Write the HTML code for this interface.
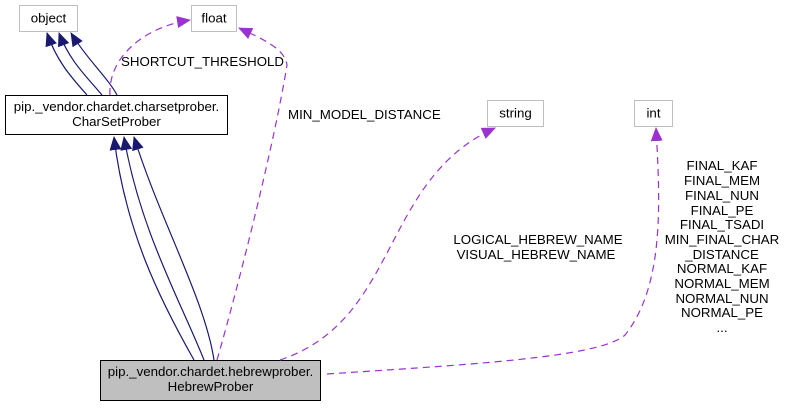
<!DOCTYPE html>
<html><head><meta charset="utf-8"><style>
html,body{margin:0;padding:0;background:#fff;}
svg text{font-family:"Liberation Sans",Arial,sans-serif;font-size:13.3px;fill:#000;}
</style></head><body>
<svg width="787" height="407" viewBox="0 0 787 407" xmlns="http://www.w3.org/2000/svg">
<defs>
<marker id="b" markerWidth="14" markerHeight="12" refX="13" refY="6" orient="auto" markerUnits="userSpaceOnUse"><path d="M0,0 L14,6 L0,12 z" fill="#191970"/></marker>
<marker id="p" markerWidth="14" markerHeight="12" refX="13" refY="6" orient="auto" markerUnits="userSpaceOnUse"><path d="M0,0 L14,6 L0,12 z" fill="#9a32cd"/></marker>
</defs>
<rect x="19.5" y="5.5" width="58" height="26" fill="#fff" stroke="#bfbfbf"/>
<text x="48.5" y="22.5" text-anchor="middle">object</text>
<rect x="191.5" y="5.5" width="45" height="26" fill="#fff" stroke="#bfbfbf"/>
<text x="214" y="22.5" text-anchor="middle">float</text>
<rect x="5.5" y="95.5" width="222" height="39" fill="#fff" stroke="#000"/>
<text x="116.5" y="111" text-anchor="middle">pip._vendor.chardet.charsetprober.</text>
<text x="116.5" y="126" text-anchor="middle">CharSetProber</text>
<rect x="487.5" y="100.5" width="56" height="26" fill="#fff" stroke="#bfbfbf"/>
<text x="515.5" y="117.5" text-anchor="middle">string</text>
<rect x="634.5" y="100.5" width="38" height="26" fill="#fff" stroke="#bfbfbf"/>
<text x="653.5" y="117.5" text-anchor="middle">int</text>
<rect x="100.5" y="360.5" width="220" height="40" fill="#bfbfbf" stroke="#000"/>
<text x="210.5" y="376" text-anchor="middle">pip._vendor.chardet.hebrewprober.</text>
<text x="210.5" y="391" text-anchor="middle">HebrewProber</text>
<g fill="none" stroke="#191970" stroke-width="1.2">
<path d="M87,95 C72,78 57,62 47,33" marker-end="url(#b)"/>
<path d="M102,95 C88,78 70,62 59,33" marker-end="url(#b)"/>
<path d="M117,95 C108,78 86,58 71,33" marker-end="url(#b)"/>
<path d="M194,360 C160,300 125,230 114,137" marker-end="url(#b)"/>
<path d="M204,360 C180,300 140,230 124,137" marker-end="url(#b)"/>
<path d="M214,360 C205,300 160,220 134,137" marker-end="url(#b)"/>
</g>
<g fill="none" stroke="#9a32cd" stroke-width="1.2" stroke-dasharray="7,5">
<path d="M110,95 C108,60 140,28 190,20" marker-end="url(#p)"/>
<path d="M217,360 C240,280 275,140 287,65 C285,48 260,38 239,28" marker-end="url(#p)"/>
<path d="M280,360 C400,320 380,180 495,128" marker-end="url(#p)"/>
<path d="M327,374 C460,365 600,358 625,335 C665,285 660,200 656,128" marker-end="url(#p)"/>
</g>
<text x="121" y="66">SHORTCUT_THRESHOLD</text>
<text x="288" y="119">MIN_MODEL_DISTANCE</text>
<text x="538" y="244" text-anchor="middle">LOGICAL_HEBREW_NAME</text>
<text x="536" y="259" text-anchor="middle">VISUAL_HEBREW_NAME</text>
<g text-anchor="middle">
<text x="722" y="170">FINAL_KAF</text>
<text x="722" y="185">FINAL_MEM</text>
<text x="722" y="200">FINAL_NUN</text>
<text x="722" y="215">FINAL_PE</text>
<text x="722" y="229">FINAL_TSADI</text>
<text x="722" y="244">MIN_FINAL_CHAR</text>
<text x="722" y="259">_DISTANCE</text>
<text x="722" y="273">NORMAL_KAF</text>
<text x="722" y="288">NORMAL_MEM</text>
<text x="722" y="303">NORMAL_NUN</text>
<text x="722" y="317">NORMAL_PE</text>
<text x="722" y="332">...</text>
</g>
</svg>
</body></html>
